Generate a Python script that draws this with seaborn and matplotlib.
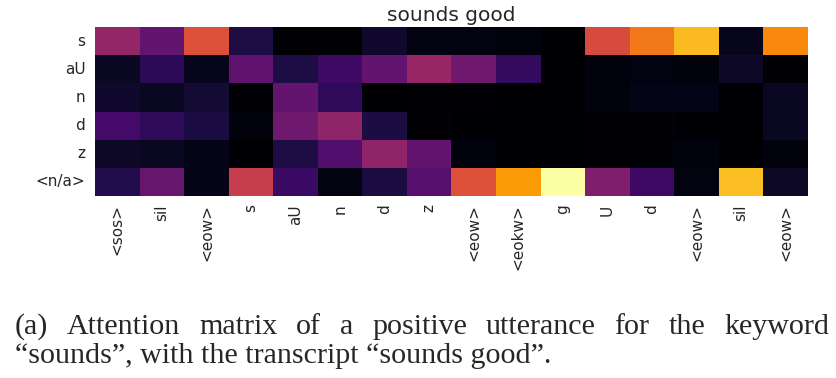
import matplotlib
matplotlib.use("Agg")
import matplotlib.pyplot as plt
import seaborn as sns
import pandas as pd

rows = ["s", "aU", "n", "d", "z", "<n/a>"]
cols = ["<sos>", "sil", "<eow>", "s", "aU", "n", "d", "z",
        "<eow>", "<eokw>", "g", "U", "d", "<eow>", "sil", "<eow>"]

att_s = [0.40, 0.28, 0.60, 0.12, 0.01, 0.01, 0.08, 0.03, 0.03, 0.02, 0.00, 0.58, 0.70, 0.84, 0.05, 0.74]
att_aU = [0.06, 0.15, 0.05, 0.27, 0.12, 0.19, 0.28, 0.41, 0.31, 0.17, 0.00, 0.02, 0.03, 0.02, 0.07, 0.01]
att_n = [0.08, 0.06, 0.09, 0.01, 0.28, 0.16, 0.00, 0.01, 0.01, 0.00, 0.00, 0.02, 0.04, 0.04, 0.00, 0.06]
att_d = [0.21, 0.16, 0.11, 0.02, 0.31, 0.39, 0.11, 0.01, 0.00, 0.00, 0.00, 0.01, 0.01, 0.00, 0.00, 0.06]
att_z = [0.07, 0.06, 0.04, 0.00, 0.12, 0.24, 0.39, 0.28, 0.02, 0.00, 0.00, 0.01, 0.01, 0.02, 0.00, 0.02]
att_na = [0.13, 0.29, 0.04, 0.53, 0.18, 0.03, 0.11, 0.25, 0.60, 0.78, 1.00, 0.35, 0.19, 0.03, 0.85, 0.07]

title = "sounds good"
caption_1 = "(a) Attention matrix of a positive utterance for the keyword"
caption_2 = "\u201csounds\u201d, with the transcript \u201csounds good\u201d."

mat = pd.DataFrame([att_s, att_aU, att_n, att_d, att_z, att_na], index=rows)

sns.set_style("white")
fig = plt.figure(figsize=(8.37, 3.78), dpi=100)
ax = fig.add_axes([95 / 837, 1 - 196 / 378, 713 / 837, 169 / 378])
sns.heatmap(mat, cmap="inferno", vmin=0, vmax=1, cbar=False,
            xticklabels=cols, yticklabels=rows, ax=ax)
ax.tick_params(axis="both", length=0, labelsize=11, colors=".15")
ax.tick_params(axis="y", pad=7, labelrotation=0)
ax.tick_params(axis="x", pad=6, labelrotation=90)
ax.set_title(title, fontsize=14.5, color=".15", pad=4)

# caption, first line justified like the paper
serif = ["Liberation Serif", "DejaVu Serif"]
fig.canvas.draw()
r = fig.canvas.get_renderer()
words = caption_1.split(" ")
x0, x1 = 15 / 837, 829 / 837
y1 = 1 - 334 / 378
texts = [fig.text(0, y1, w, fontsize=21.6, family=serif, va="baseline") for w in words]
widths = [t.get_window_extent(r).width / fig.bbox.width for t in texts]
gap = (x1 - x0 - sum(widths)) / (len(words) - 1)
x = x0
for t, w in zip(texts, widths):
    t.set_x(x)
    x += w + gap
fig.text(x0, 1 - 363 / 378, caption_2, fontsize=21.6, family=serif, va="baseline")

fig.savefig("out.png", dpi=100)
